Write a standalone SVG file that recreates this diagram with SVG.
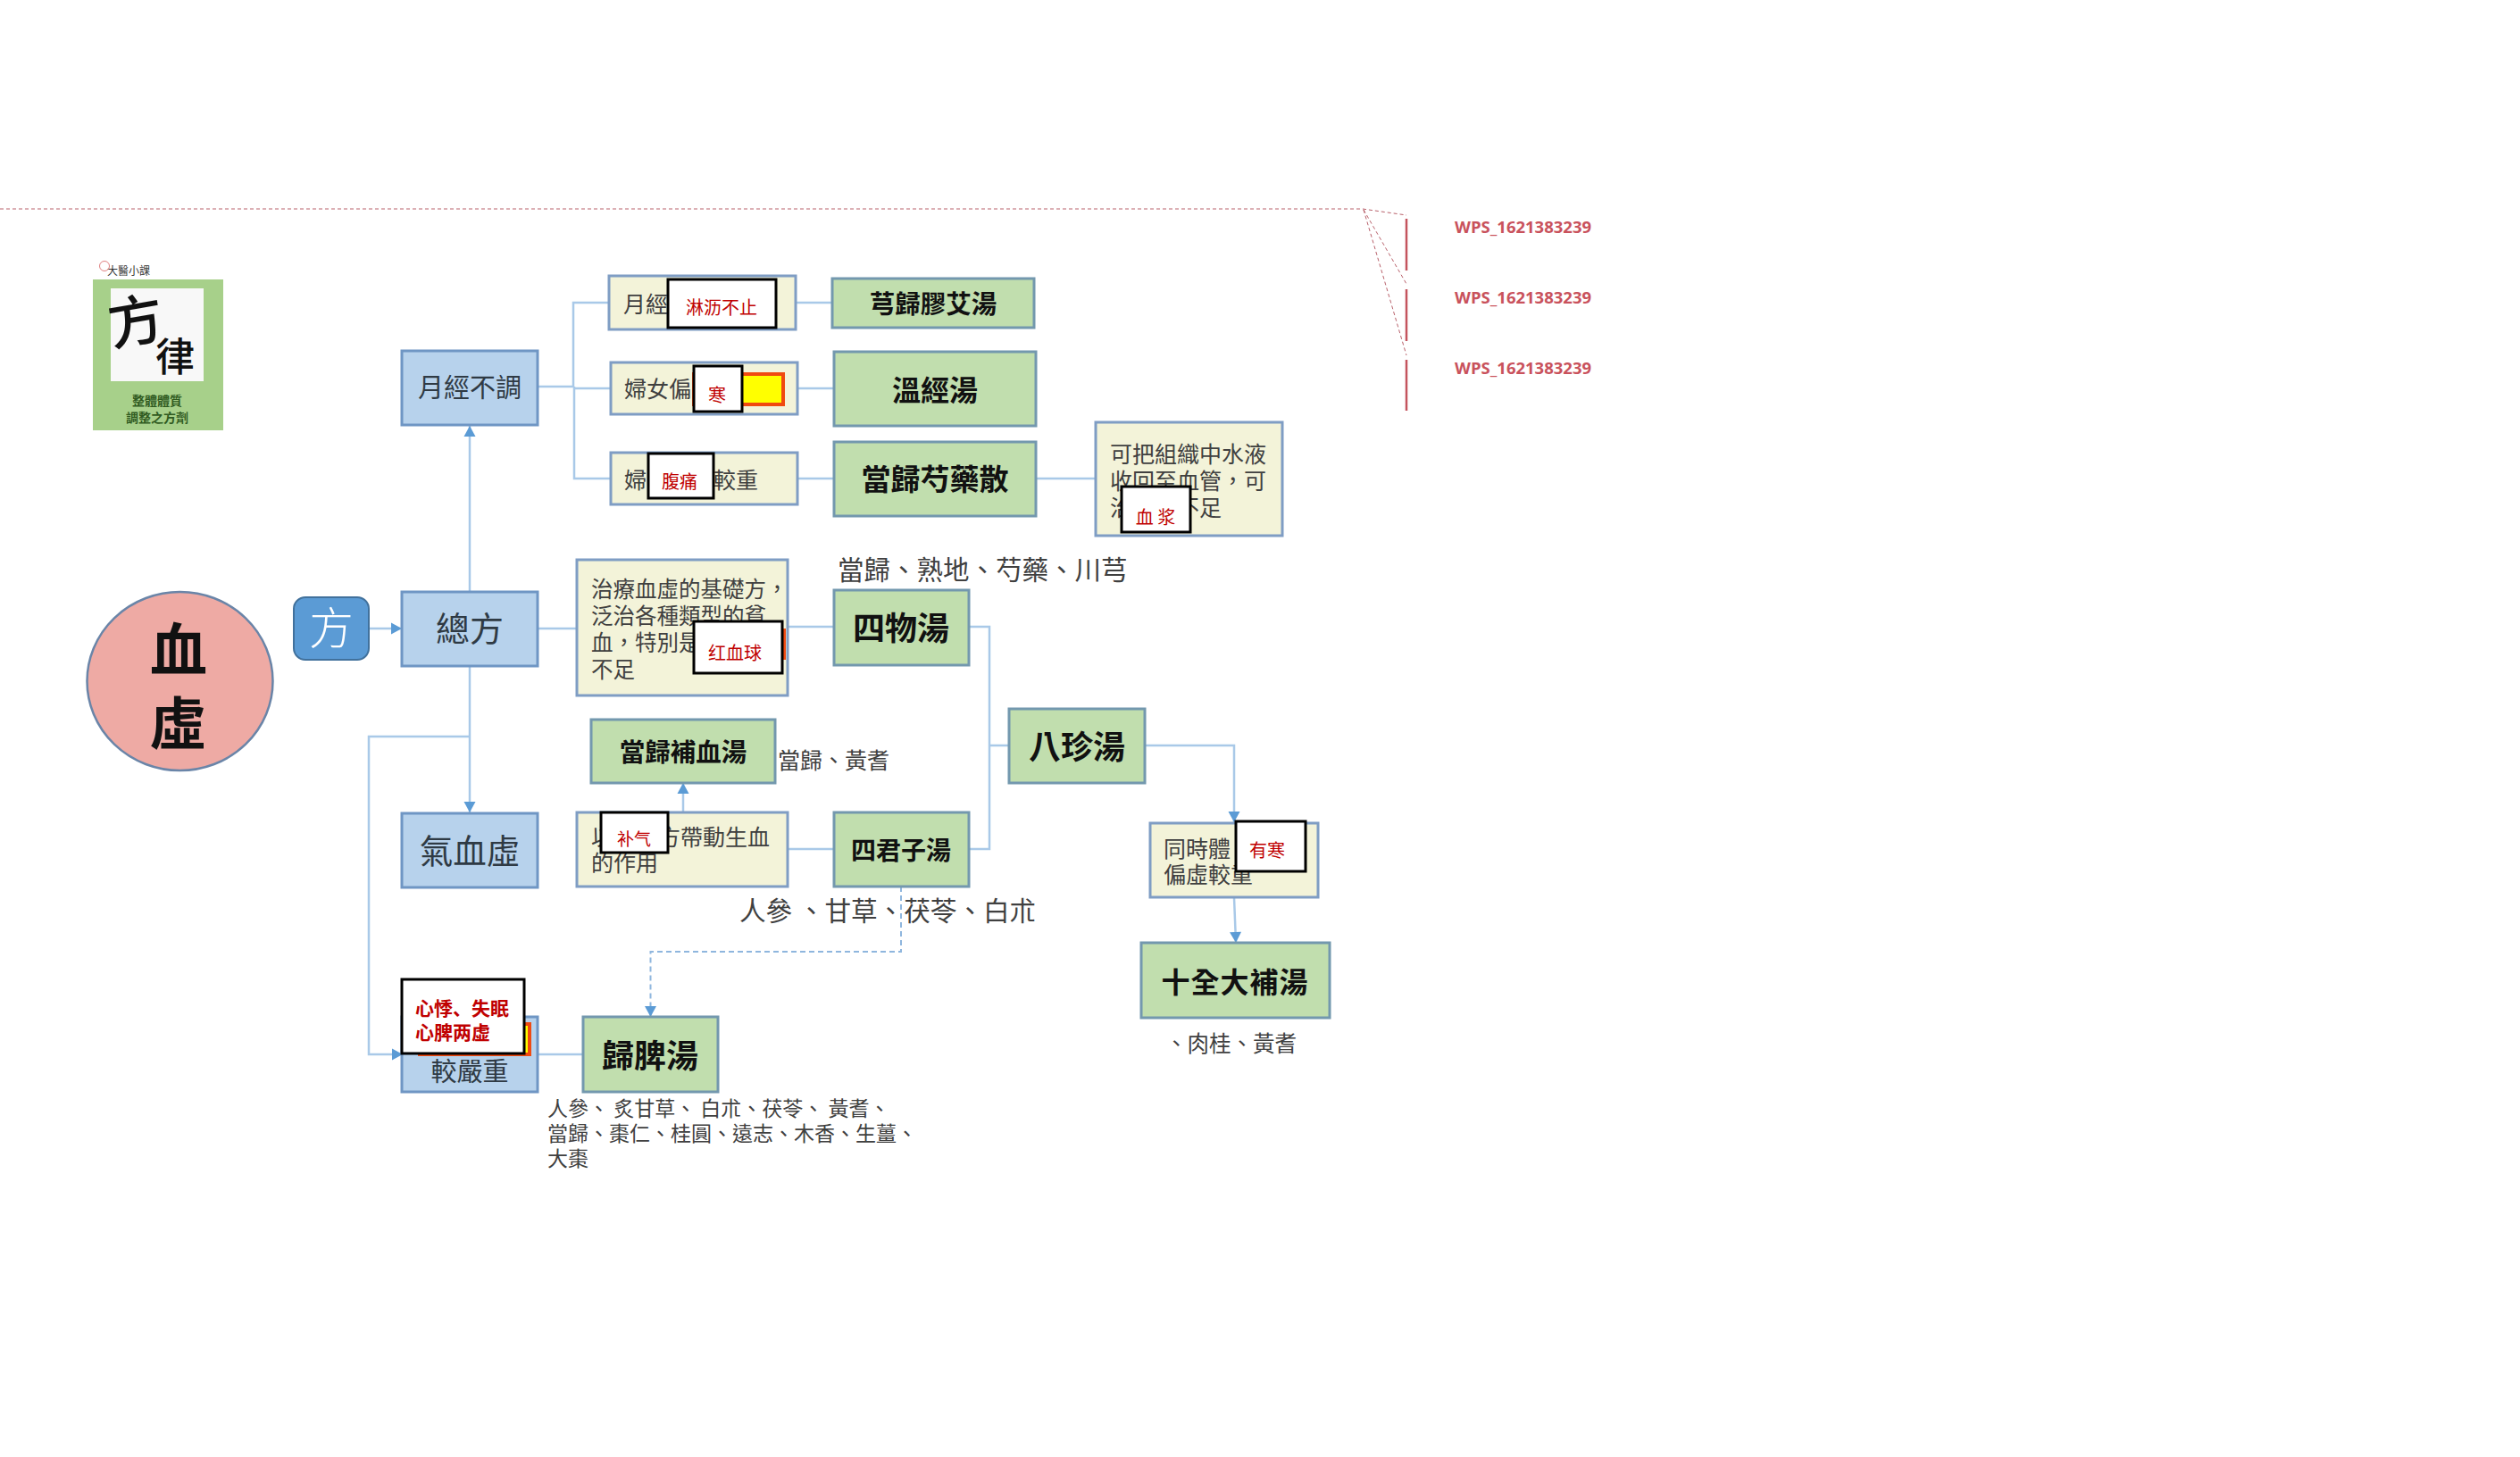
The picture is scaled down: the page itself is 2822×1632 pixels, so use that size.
<svg xmlns="http://www.w3.org/2000/svg" width="2822" height="1632" viewBox="0 0 2822 1632">
<defs>
<marker id="ah" markerUnits="userSpaceOnUse" markerWidth="15" markerHeight="15" refX="13" refY="7.500" orient="auto"><path d="M1,1 L13,7.500 L1,14 Z" fill="#5b9bd5"/></marker>
</defs>
<style>
text{font-family:"Noto Sans CJK TC","Noto Sans CJK SC",sans-serif}
.blue{fill:#b7d2ec;stroke:#6f96c4;stroke-width:3}
.pale{fill:#f3f3d9;stroke:#7f9dc4;stroke-width:3}
.green{fill:#c1deae;stroke:#7398ae;stroke-width:3}
.white{fill:#fff;stroke:#000;stroke-width:3}
.yel{fill:#ffff00;stroke:#f04a10;stroke-width:4}
.con{fill:none;stroke:#a9c9e8;stroke-width:2.500}
.arr{marker-end:url(#ah)}
.dash{fill:none;stroke:#8fb6de;stroke-width:2;stroke-dasharray:6 4}
.rev{fill:none;stroke:#b8606a;stroke-width:1;stroke-dasharray:4 3}
.revbar{stroke:#c4545e;stroke-width:2.500}
.rt{font-family:"Open Sans",sans-serif;font-weight:700;font-size:18.500px;fill:#c9525c}
.k{fill:#111;font-weight:700;text-anchor:middle}
.d{fill:#404040;font-weight:400}
.c{fill:#2f3a44;text-anchor:middle;font-weight:400}
.r{fill:#c00000;font-family:"Noto Sans CJK SC",sans-serif;text-anchor:middle;font-size:20px}
.rs{fill:#c00000;font-family:"Noto Sans CJK SC",sans-serif;font-size:21px;font-weight:700}
</style>
<g id="revision-marks">
<path class="rev" d="M0,234 H1526 L1575,241 M1527,235 L1575,318 M1527,235 L1575,398"/>
<path class="revbar" d="M1575,245 V303 M1575,324 V382 M1575,403 V460"/>
<text class="rt" x="1629" y="261">WPS_1621383239</text>
<text class="rt" x="1629" y="340">WPS_1621383239</text>
<text class="rt" x="1629" y="419">WPS_1621383239</text>
</g>
<g id="connectors">
<path class="con arr" d="M413,704 H450"/>
<path class="con arr" d="M526,663 V477"/>
<path class="con arr" d="M526,746 V910"/>
<path class="con arr" d="M526,825 H413 V1181 H451"/>
<path class="con" d="M602,704 H646"/>
<path class="con" d="M602,433 H643"/>
<path class="con" d="M682,339 H642 V433 M643,433 V536 H684 M643,435 H684"/>
<path class="con" d="M891,339 H932 M893,435 H934 M893,536 H934 M1160,536 H1227"/>
<path class="con" d="M882,702 H934 M882,951 H934"/>
<path class="con" d="M1085,702 H1108 V951 H1085 M1108,835 H1130"/>
<path class="con arr" d="M765,910 V877"/>
<path class="con arr" d="M1282,835 H1382 V921"/>
<path class="con arr" d="M1382,1005 L1384,1056"/>
<path class="con" d="M602,1181 H653"/>
<path class="dash arr" d="M1009,993 V1066 H728.500 V1139"/>
</g>
<g id="logo">
<text x="120" y="308" font-size="12" fill="#333">大醫小課</text>
<circle cx="117" cy="298" r="5.500" fill="none" stroke="#e08080" stroke-width="1"/>
<rect x="104" y="313" width="146" height="169" fill="#a7d08a"/>
<rect x="124" y="323" width="104" height="104" fill="#f8f8f8"/>
<text x="0" y="0" font-size="62" font-weight="500" text-anchor="middle" fill="#111" transform="translate(156,382) rotate(-10)">方</text>
<text x="196" y="416" font-size="44" font-weight="500" text-anchor="middle" fill="#111">律</text>
<text x="176" y="454" font-size="14" font-weight="700" text-anchor="middle" fill="#2f5a1f">整體體質</text>
<text x="176" y="473" font-size="14" font-weight="700" text-anchor="middle" fill="#2f5a1f">調整之方劑</text>
</g>
<g id="n-xuexu">
<ellipse cx="201.500" cy="763" rx="104" ry="100" fill="#eeaaa4" stroke="#6a85a8" stroke-width="2.500"/>
<text class="k" x="200" y="751" font-size="64" font-weight="900">血</text>
<text class="k" x="199" y="834" font-size="64" font-weight="900">虛</text>
</g>
<g id="n-fang">
<rect x="329" y="669" width="84" height="70" rx="13" fill="#5b9bd5" stroke="#41719c" stroke-width="2"/>
<text x="371" y="722" font-size="50" font-weight="300" text-anchor="middle" fill="#fff">方</text>
</g>
<g id="n-yuejing">
<rect class="blue" x="450" y="393" width="152" height="83"/>
<text class="c" x="526" y="445" font-size="29">月經不調</text>
</g>
<g id="n-zongfang">
<rect class="blue" x="450" y="663" width="152" height="83"/>
<text class="c" x="526" y="718" font-size="38">總方</text>
</g>
<g id="n-qixue">
<rect class="blue" x="450" y="911" width="152" height="83"/>
<text class="c" x="526" y="967" font-size="37.500">氣血虛</text>
</g>
<g id="n-jiaoyan">
<rect class="blue" x="450" y="1139" width="152" height="84"/>
<rect class="yel" x="470" y="1147" width="123" height="34"/>
<text class="c" x="526" y="1211" font-size="29">較嚴重</text>
<rect class="white" x="450" y="1097" width="137" height="83"/>
<text class="rs" x="465" y="1137">心悸、失眠</text>
<text class="rs" x="465" y="1164">心脾两虚</text>
</g>
<g id="n-guipi">
<rect class="green" x="653" y="1139" width="151" height="84"/>
<text class="k" x="728" y="1196" font-size="36">歸脾湯</text>
<text class="d" x="613" y="1250" font-size="23">人參、 炙甘草、 白朮、茯苓、 黃耆、</text>
<text class="d" x="613" y="1278" font-size="23">當歸、棗仁、桂圓、遠志、木香、生薑、</text>
<text class="d" x="613" y="1306" font-size="23">大棗</text>
</g>
<g id="n-d1">
<rect class="pale" x="682" y="309" width="209" height="60"/>
<text class="d" x="698" y="350" font-size="25">月經</text>
<rect class="white" x="748" y="313" width="121" height="54"/>
<text class="r" x="808" y="352">淋沥不止</text>
</g>
<g id="n-f1">
<rect class="green" x="932" y="312" width="226" height="55"/>
<text class="k" x="1045" y="351" font-size="28.500">芎歸膠艾湯</text>
</g>
<g id="n-d2">
<rect class="pale" x="684" y="406" width="209" height="58"/>
<text class="d" x="699" y="445" font-size="25">婦女偏</text>
<rect class="yel" x="777" y="419" width="100" height="34"/>
<rect class="white" x="777" y="410" width="54" height="51"/>
<text class="r" x="803" y="450">寒</text>
</g>
<g id="n-f2">
<rect class="green" x="934" y="394" width="226" height="83"/>
<text class="k" x="1047" y="449" font-size="32">溫經湯</text>
</g>
<g id="n-d3">
<rect class="pale" x="684" y="507" width="209" height="58"/>
<text class="d" x="699" y="547" font-size="25">婦</text>
<text class="d" x="799" y="547" font-size="25">較重</text>
<rect class="white" x="726" y="508" width="73" height="50"/>
<text class="r" x="761" y="547">腹痛</text>
</g>
<g id="n-f3">
<rect class="green" x="934" y="495" width="226" height="83"/>
<text class="k" x="1047" y="549" font-size="33">當歸芍藥散</text>
</g>
<g id="n-d4">
<rect class="pale" x="1227" y="473" width="209" height="127"/>
<text class="d" x="1243" y="518" font-size="25">可把組織中水液</text>
<text class="d" x="1243" y="548" font-size="25">收回至血管，可</text>
<text class="d" x="1243" y="578" font-size="25">治</text>
<text class="d" x="1318" y="578" font-size="25">不足</text>
<rect class="white" x="1256" y="545" width="77" height="51"/>
<text class="r" x="1294" y="587">血 浆</text>
</g>
<g id="n-d5">
<rect class="pale" x="646" y="627" width="236" height="152"/>
<text class="d" x="662" y="669" font-size="24.500">治療血虛的基礎方，</text>
<text class="d" x="662" y="699" font-size="24.500">泛治各種類型的貧</text>
<text class="d" x="662" y="729" font-size="24.500">血，特別是</text>
<text class="d" x="662" y="759" font-size="24.500">不足</text>
<rect x="875" y="704" width="5" height="35" fill="#f04a10"/>
<rect class="white" x="777" y="696" width="99" height="58"/>
<text class="r" x="823" y="739">红血球</text>
</g>
<g id="n-siwu">
<rect class="green" x="934" y="661" width="151" height="84"/>
<text class="k" x="1009" y="717" font-size="36">四物湯</text>
<text class="d" x="938" y="649" font-size="29.500">當歸、熟地、芍藥、川芎</text>
</g>
<g id="n-danggui">
<rect class="green" x="662" y="806" width="206" height="71"/>
<text class="k" x="765" y="853" font-size="28.500">當歸補血湯</text>
<text class="d" x="871" y="861" font-size="25">當歸、黃耆</text>
</g>
<g id="n-d6">
<rect class="pale" x="646" y="910" width="236" height="83"/>
<text class="d" x="662" y="947" font-size="25">以</text>
<text class="d" x="737" y="947" font-size="25">方帶動生血</text>
<text class="d" x="662" y="976" font-size="25">的作用</text>
<rect class="white" x="673" y="910" width="75" height="45"/>
<text class="r" x="710" y="947" style="font-size:19px">补气</text>
</g>
<g id="n-sijun">
<rect class="green" x="934" y="910" width="151" height="83"/>
<text class="k" x="1009" y="963" font-size="28">四君子湯</text>
<text class="d" x="828" y="1031" font-size="29.600">人參 、甘草、茯苓、白朮</text>
</g>
<g id="n-bazhen">
<rect class="green" x="1130" y="794" width="152" height="83"/>
<text class="k" x="1206" y="850" font-size="36">八珍湯</text>
</g>
<g id="n-d7">
<rect class="pale" x="1288" y="922" width="188" height="83"/>
<text class="d" x="1303" y="960" font-size="25">同時體</text>
<text class="d" x="1303" y="989" font-size="25">偏虛較重</text>
<rect class="white" x="1384" y="920" width="78" height="56"/>
<text class="r" x="1419" y="960">有寒</text>
</g>
<g id="n-shiquan">
<rect class="green" x="1278" y="1056" width="211" height="84"/>
<text class="k" x="1383" y="1112" font-size="32" letter-spacing="1">十全大補湯</text>
<text class="d" x="1305" y="1178" font-size="24.500">、肉桂、黃耆</text>
</g>
</svg>
